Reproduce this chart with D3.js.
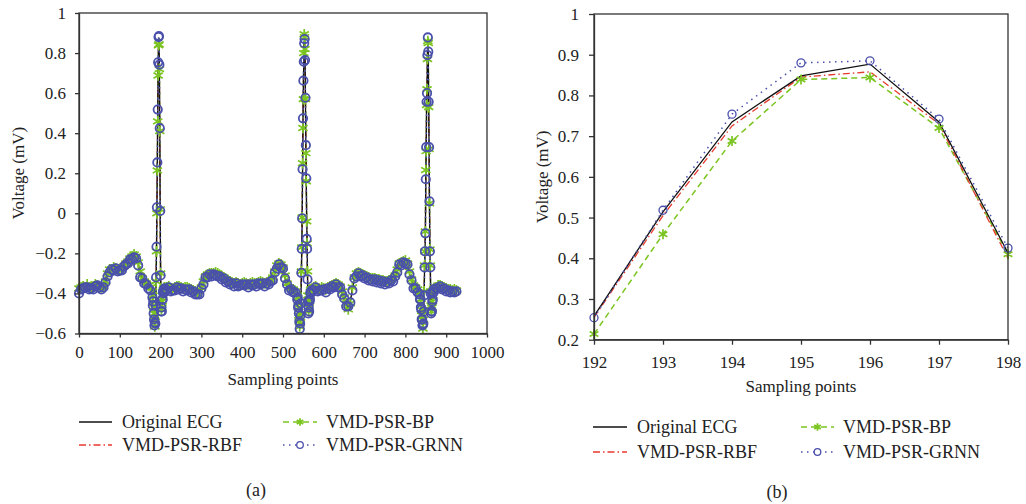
<!doctype html>
<html>
  <head>
    <meta charset="utf-8">
    <script src="https://cdnjs.cloudflare.com/ajax/libs/d3/7.8.5/d3.min.js"></script>
    <style>
      body { margin: 0; background: #fff; }
      svg text { font-family: "Liberation Serif", "Times New Roman", serif; fill: #222; }
    </style>
  </head>
  <body>
    <svg id="chart" width="1026" height="504"></svg>
    <script>
      // sample indices (dense around the three QRS complexes)
      var samples = [
        0,5,10,15,20,25,30,35,40,45,50,55,60,65,70,75,80,85,90,95,100,105,110,115,120,125,130,135,140,145,150,155,160,165,170,175,180,
        181,182,183,184,185,186,187,188,189,190,191,192,193,194,195,196,197,198,199,200,201,202,203,204,205,206,207,208,209,210,
        215,220,225,230,235,240,245,250,255,260,265,270,275,280,285,290,295,300,305,310,315,320,325,330,335,340,345,350,355,360,
        365,370,375,380,385,390,395,400,405,410,415,420,425,430,435,440,445,450,455,460,465,470,475,480,485,490,495,500,505,510,
        515,520,525,530,535,
        536,537,538,539,540,541,542,543,544,545,546,547,548,549,550,551,552,553,554,555,556,557,558,559,560,561,562,563,564,565,566,567,568,
        570,575,580,585,590,595,600,605,610,615,620,625,630,635,640,645,650,655,660,665,670,675,680,685,690,695,700,705,710,715,
        720,725,730,735,740,745,750,755,760,765,770,775,780,785,790,795,800,805,810,815,820,825,830,835,
        836,837,838,839,840,841,842,843,844,845,846,847,848,849,850,851,852,853,854,855,856,857,858,859,860,861,862,863,864,865,866,867,868,869,870,
        875,880,885,890,895,900,905,910,915,920,925
      ];

      var ecgOriginal = [
        -0.385,-0.375,-0.37,-0.375,-0.365,-0.375,-0.38,-0.375,-0.36,-0.365,-0.375,-0.38,-0.375,-0.35,-0.31,-0.29,-0.285,-0.28,-0.28,-0.285,-0.29,-0.28,-0.27,-0.26,-0.245,-0.235,-0.225,-0.215,-0.22,-0.25,-0.30,-0.33,-0.345,-0.36,-0.37,-0.38,-0.40,
        -0.42,-0.45,-0.48,-0.51,-0.54,-0.555,-0.55,-0.50,-0.33,-0.17,0.03,0.258,0.514,0.735,0.848,0.877,0.735,0.413,0.01,-0.31,-0.45,-0.49,-0.48,-0.45,-0.42,-0.40,-0.39,-0.385,-0.38,-0.38,
        -0.38,-0.375,-0.385,-0.39,-0.38,-0.375,-0.375,-0.38,-0.385,-0.38,-0.38,-0.385,-0.39,-0.395,-0.40,-0.41,-0.40,-0.38,-0.35,-0.325,
        -0.315,-0.31,-0.31,-0.31,-0.305,-0.31,-0.32,-0.325,-0.33,-0.34,-0.345,-0.35,-0.355,-0.36,-0.355,-0.36,-0.365,-0.36,-0.355,-0.36,
        -0.365,-0.36,-0.355,-0.36,-0.36,-0.355,-0.35,-0.355,-0.36,-0.355,-0.35,-0.345,-0.33,-0.30,-0.27,-0.26,-0.265,-0.28,-0.32,-0.36,
        -0.38,-0.385,-0.39,-0.40,-0.42,
        -0.43,-0.45,-0.48,-0.52,-0.55,-0.575,-0.56,-0.53,-0.46,-0.30,-0.18,-0.03,0.22,0.47,0.66,0.76,0.85,0.875,0.80,0.58,0.33,0.175,-0.025,-0.13,-0.30,-0.42,-0.48,-0.50,-0.48,-0.45,-0.42,-0.40,-0.39,
        -0.39,-0.38,-0.375,-0.385,-0.39,-0.38,-0.385,-0.39,-0.38,-0.375,-0.37,-0.365,-0.36,-0.365,-0.375,-0.40,-0.43,-0.46,-0.47,-0.44,
        -0.38,-0.33,-0.31,-0.305,-0.31,-0.315,-0.32,-0.325,-0.33,-0.335,-0.335,-0.335,-0.34,-0.34,-0.345,-0.345,-0.35,-0.35,-0.345,-0.34,
        -0.335,-0.32,-0.29,-0.26,-0.255,-0.25,-0.245,-0.26,-0.30,-0.34,-0.37,-0.38,-0.39,-0.41,
        -0.42,-0.44,-0.46,-0.49,-0.52,-0.54,-0.555,-0.56,-0.54,-0.50,-0.40,-0.27,-0.19,-0.10,0.17,0.33,0.56,0.60,0.79,0.875,0.81,0.55,0.33,0.06,-0.19,-0.27,-0.40,-0.47,-0.50,-0.48,-0.45,-0.42,-0.40,-0.39,-0.385,
        -0.38,-0.37,-0.37,-0.375,-0.38,-0.385,-0.39,-0.39,-0.395,-0.39,-0.395
      ];

      var ecgRBF = [
        -0.38,-0.375,-0.375,-0.37,-0.365,-0.375,-0.38,-0.37,-0.36,-0.365,-0.375,-0.375,-0.37,-0.35,-0.315,-0.29,-0.28,-0.28,-0.285,-0.285,-0.285,-0.28,-0.27,-0.255,-0.245,-0.235,-0.22,-0.215,-0.225,-0.255,-0.30,-0.33,-0.345,-0.355,-0.37,-0.38,-0.405,
        -0.42,-0.45,-0.48,-0.51,-0.54,-0.55,-0.55,-0.49,-0.33,-0.17,0.03,0.255,0.505,0.725,0.845,0.858,0.73,0.40,0.01,-0.31,-0.45,-0.49,-0.48,-0.45,-0.42,-0.40,-0.39,-0.385,-0.38,-0.38,
        -0.38,-0.375,-0.38,-0.39,-0.385,-0.375,-0.37,-0.38,-0.385,-0.38,-0.385,-0.385,-0.39,-0.395,-0.40,-0.405,-0.40,-0.38,-0.35,-0.32,
        -0.315,-0.31,-0.31,-0.305,-0.305,-0.31,-0.32,-0.325,-0.33,-0.34,-0.345,-0.35,-0.355,-0.36,-0.355,-0.36,-0.36,-0.36,-0.355,-0.36,
        -0.365,-0.36,-0.355,-0.355,-0.36,-0.355,-0.35,-0.355,-0.36,-0.355,-0.35,-0.345,-0.33,-0.30,-0.27,-0.26,-0.265,-0.28,-0.32,-0.36,
        -0.38,-0.385,-0.39,-0.40,-0.42,
        -0.43,-0.45,-0.48,-0.52,-0.55,-0.57,-0.56,-0.53,-0.46,-0.30,-0.18,-0.03,0.22,0.46,0.65,0.76,0.84,0.86,0.79,0.58,0.33,0.17,-0.03,-0.13,-0.30,-0.42,-0.48,-0.50,-0.48,-0.45,-0.42,-0.40,-0.39,
        -0.39,-0.38,-0.375,-0.38,-0.39,-0.38,-0.385,-0.39,-0.38,-0.375,-0.37,-0.365,-0.36,-0.365,-0.375,-0.40,-0.43,-0.46,-0.47,-0.44,
        -0.38,-0.33,-0.31,-0.305,-0.31,-0.315,-0.32,-0.325,-0.33,-0.335,-0.335,-0.335,-0.34,-0.34,-0.345,-0.345,-0.35,-0.35,-0.345,-0.34,
        -0.335,-0.32,-0.29,-0.26,-0.255,-0.25,-0.245,-0.26,-0.30,-0.34,-0.37,-0.38,-0.39,-0.41,
        -0.42,-0.44,-0.46,-0.49,-0.52,-0.54,-0.555,-0.56,-0.54,-0.50,-0.40,-0.27,-0.19,-0.10,0.17,0.33,0.55,0.60,0.78,0.86,0.80,0.55,0.33,0.06,-0.19,-0.27,-0.40,-0.47,-0.50,-0.48,-0.45,-0.42,-0.40,-0.39,-0.385,
        -0.38,-0.37,-0.37,-0.375,-0.38,-0.385,-0.39,-0.39,-0.395,-0.39,-0.395
      ];

      var ecgBP = [
        -0.375,-0.37,-0.365,-0.37,-0.355,-0.37,-0.375,-0.365,-0.355,-0.36,-0.37,-0.37,-0.365,-0.34,-0.30,-0.28,-0.28,-0.27,-0.275,-0.28,-0.285,-0.27,-0.265,-0.25,-0.24,-0.225,-0.215,-0.205,-0.215,-0.245,-0.29,-0.325,-0.34,-0.35,-0.36,-0.37,-0.39,
        -0.41,-0.44,-0.47,-0.50,-0.53,-0.565,-0.54,-0.48,-0.34,-0.19,0.0,0.214,0.459,0.688,0.839,0.844,0.72,0.41,0.02,-0.30,-0.44,-0.48,-0.47,-0.44,-0.41,-0.39,-0.38,-0.375,-0.37,-0.37,
        -0.37,-0.365,-0.375,-0.38,-0.37,-0.365,-0.365,-0.37,-0.375,-0.37,-0.37,-0.375,-0.38,-0.385,-0.39,-0.40,-0.39,-0.37,-0.34,-0.315,
        -0.305,-0.30,-0.30,-0.30,-0.295,-0.30,-0.31,-0.315,-0.32,-0.33,-0.335,-0.34,-0.345,-0.35,-0.345,-0.35,-0.355,-0.35,-0.345,-0.35,
        -0.355,-0.35,-0.345,-0.35,-0.35,-0.345,-0.34,-0.345,-0.35,-0.345,-0.34,-0.335,-0.32,-0.29,-0.26,-0.25,-0.255,-0.27,-0.31,-0.35,
        -0.37,-0.375,-0.38,-0.39,-0.41,
        -0.42,-0.44,-0.47,-0.51,-0.54,-0.565,-0.55,-0.52,-0.45,-0.29,-0.17,-0.02,0.25,0.426,0.57,0.80,0.894,0.88,0.82,0.57,0.30,0.16,-0.04,-0.15,-0.29,-0.41,-0.47,-0.49,-0.47,-0.44,-0.41,-0.39,-0.38,
        -0.38,-0.37,-0.365,-0.375,-0.38,-0.37,-0.375,-0.38,-0.37,-0.365,-0.36,-0.355,-0.35,-0.355,-0.365,-0.39,-0.42,-0.45,-0.48,-0.45,
        -0.37,-0.32,-0.30,-0.295,-0.30,-0.305,-0.31,-0.315,-0.32,-0.325,-0.325,-0.325,-0.33,-0.33,-0.335,-0.335,-0.34,-0.34,-0.335,-0.33,
        -0.325,-0.31,-0.28,-0.25,-0.245,-0.24,-0.235,-0.25,-0.29,-0.33,-0.36,-0.37,-0.38,-0.40,
        -0.41,-0.43,-0.45,-0.48,-0.51,-0.53,-0.545,-0.575,-0.53,-0.49,-0.39,-0.26,-0.19,-0.09,0.216,0.31,0.54,0.62,0.77,0.86,0.85,0.53,0.32,0.05,-0.18,-0.26,-0.39,-0.46,-0.49,-0.47,-0.44,-0.41,-0.39,-0.38,-0.375,
        -0.37,-0.36,-0.36,-0.365,-0.37,-0.375,-0.38,-0.38,-0.385,-0.38,-0.385
      ];

      var ecgGRNN = [
        -0.40,-0.38,-0.375,-0.37,-0.37,-0.38,-0.375,-0.38,-0.365,-0.36,-0.37,-0.38,-0.37,-0.345,-0.315,-0.295,-0.28,-0.285,-0.275,-0.29,-0.285,-0.285,-0.265,-0.255,-0.25,-0.23,-0.23,-0.22,-0.225,-0.26,-0.32,-0.325,-0.35,-0.355,-0.375,-0.385,-0.42,
        -0.46,-0.44,-0.50,-0.53,-0.56,-0.545,-0.55,-0.46,-0.32,-0.167,0.03,0.254,0.518,0.754,0.880,0.885,0.742,0.425,0.012,-0.31,-0.49,-0.47,-0.49,-0.43,-0.43,-0.39,-0.40,-0.38,-0.39,-0.375,
        -0.385,-0.37,-0.39,-0.385,-0.385,-0.37,-0.38,-0.375,-0.39,-0.38,-0.385,-0.38,-0.395,-0.39,-0.405,-0.405,-0.405,-0.375,-0.355,-0.32,
        -0.32,-0.305,-0.315,-0.305,-0.31,-0.315,-0.315,-0.33,-0.325,-0.345,-0.34,-0.355,-0.35,-0.365,-0.35,-0.365,-0.36,-0.355,-0.36,-0.355,
        -0.37,-0.355,-0.36,-0.355,-0.365,-0.35,-0.355,-0.35,-0.365,-0.35,-0.355,-0.34,-0.335,-0.295,-0.275,-0.255,-0.27,-0.275,-0.325,-0.355,
        -0.385,-0.38,-0.395,-0.395,-0.43,
        -0.42,-0.47,-0.46,-0.50,-0.54,-0.577,-0.55,-0.51,-0.45,-0.297,-0.178,-0.025,0.22,0.474,0.662,0.757,0.849,0.87,0.765,0.577,0.34,0.175,-0.128,-0.178,-0.33,-0.44,-0.50,-0.47,-0.49,-0.44,-0.43,-0.395,-0.40,
        -0.385,-0.385,-0.37,-0.39,-0.385,-0.385,-0.38,-0.395,-0.375,-0.38,-0.365,-0.37,-0.355,-0.37,-0.37,-0.405,-0.425,-0.465,-0.465,-0.445,
        -0.385,-0.325,-0.315,-0.30,-0.315,-0.31,-0.325,-0.32,-0.335,-0.33,-0.34,-0.33,-0.345,-0.335,-0.35,-0.34,-0.355,-0.345,-0.35,-0.335,
        -0.34,-0.315,-0.295,-0.255,-0.26,-0.245,-0.25,-0.255,-0.305,-0.335,-0.375,-0.375,-0.395,-0.405,
        -0.43,-0.43,-0.47,-0.48,-0.53,-0.53,-0.56,-0.555,-0.55,-0.49,-0.41,-0.27,-0.19,-0.10,0.17,0.33,0.557,0.60,0.79,0.878,0.807,0.557,0.33,0.06,-0.19,-0.27,-0.40,-0.50,-0.49,-0.49,-0.44,-0.43,-0.395,-0.395,-0.38,
        -0.375,-0.375,-0.365,-0.38,-0.375,-0.39,-0.385,-0.395,-0.39,-0.395,-0.39
      ];

      // tick labels
      var xTicksA = [0,100,200,300,400,500,600,700,800,900,1000];
      var yTicksA = [-0.6,-0.4,-0.2,0,0.2,0.4,0.6,0.8,1];
      var xTicksB = [192,193,194,195,196,197,198];
      var yTicksB = [0.2,0.3,0.4,0.5,0.6,0.7,0.8,0.9,1];

      var seriesNames = ["Original ECG","VMD-PSR-RBF","VMD-PSR-BP","VMD-PSR-GRNN"];
      var seriesValues = [ecgOriginal, ecgRBF, ecgBP, ecgGRNN];

      var styles = {
        "Original ECG": {color: "#111", dash: null, width: 1.3, marker: null},
        "VMD-PSR-RBF": {color: "#e63a2e", dash: "7,3,1.5,3", width: 1.3, marker: null},
        "VMD-PSR-BP": {color: "#7bc520", dash: "6,4", width: 1.5, marker: "star"},
        "VMD-PSR-GRNN": {color: "#4a50ab", dash: "1.5,4.5", width: 1.5, marker: "circle"}
      };

      var allSeries = seriesNames.map(function(name, i) {
        return {name: name, points: samples.map(function(s, j) { return {s: s, v: seriesValues[i][j]}; })};
      });

      var svg = d3.select("#chart");
      var fmt = d3.format("~g");
      var FONT = "'Liberation Serif', 'Times New Roman', serif";

      function drawPanel(cfg) {
        var x = d3.scaleLinear().domain(cfg.xDomain).range([cfg.left, cfg.right]);
        var y = d3.scaleLinear().domain(cfg.yDomain).range([cfg.bottom, cfg.top]);
        var g = svg.append("g");

        var data = allSeries.map(function(sr) {
          return {name: sr.name, points: sr.points.filter(function(p) {
            return p.s >= cfg.xDomain[0] && p.s <= cfg.xDomain[1];
          })};
        });
        var byName = {};
        data.forEach(function(d) { byName[d.name] = d; });

        var line = d3.line().x(function(d) { return x(d.s); }).y(function(d) { return y(d.v); });

        ["VMD-PSR-BP","VMD-PSR-RBF","Original ECG","VMD-PSR-GRNN"].forEach(function(name) {
          var st = styles[name];
          g.append("path").datum(byName[name].points)
            .attr("d", line).attr("fill", "none")
            .attr("stroke", st.color).attr("stroke-width", st.width)
            .attr("stroke-dasharray", st.dash);
        });

        var star = d3.symbol().type(d3.symbolAsterisk).size(cfg.starSize);
        g.append("g").selectAll("path").data(byName["VMD-PSR-BP"].points).enter().append("path")
          .attr("d", star).attr("transform", function(d) { return "translate(" + x(d.s) + "," + y(d.v) + ")"; })
          .attr("fill", "none").attr("stroke", styles["VMD-PSR-BP"].color).attr("stroke-width", 1.7);

        g.append("g").selectAll("circle").data(byName["VMD-PSR-GRNN"].points).enter().append("circle")
          .attr("cx", function(d) { return x(d.s); }).attr("cy", function(d) { return y(d.v); })
          .attr("r", cfg.circleR).attr("fill", "none")
          .attr("stroke", styles["VMD-PSR-GRNN"].color).attr("stroke-width", cfg.circleW);

        // axes
        var xAxis = d3.axisBottom(x).tickValues(cfg.xTicks).tickFormat(fmt)
          .tickSizeInner(cfg.tick).tickSizeOuter(0).tickPadding(cfg.xPad);
        var yAxis = d3.axisLeft(y).tickValues(cfg.yTicks).tickFormat(fmt)
          .tickSizeInner(cfg.tick).tickSizeOuter(0).tickPadding(cfg.yPad);
        var gx = svg.append("g").attr("transform", "translate(0," + cfg.bottom + ")").call(xAxis);
        var gy = svg.append("g").attr("transform", "translate(" + cfg.left + ",0)").call(yAxis);
        [gx, gy].forEach(function(a) {
          a.attr("font-family", FONT).attr("font-size", 17);
          a.selectAll("path, line").attr("stroke", "#333").attr("stroke-width", 1.3);
          a.selectAll("text").attr("fill", "#222");
        });

        svg.append("rect")
          .attr("x", cfg.left).attr("y", cfg.top)
          .attr("width", cfg.right - cfg.left).attr("height", cfg.bottom - cfg.top)
          .attr("fill", "none").attr("stroke", "#333").attr("stroke-width", 1.3);

        // axis titles
        svg.append("text").attr("x", (cfg.left + cfg.right) / 2).attr("y", cfg.xTitleY)
          .attr("text-anchor", "middle").attr("dominant-baseline", "central")
          .attr("font-size", 17).text("Sampling points");
        svg.append("text")
          .attr("transform", "translate(" + cfg.yTitleX + "," + ((cfg.top + cfg.bottom) / 2) + ") rotate(-90)")
          .attr("text-anchor", "middle").attr("dominant-baseline", "central")
          .attr("font-size", 17).text("Voltage (mV)");

        // legend
        var order = [["Original ECG", 0, 0], ["VMD-PSR-RBF", 0, 1], ["VMD-PSR-BP", 1, 0], ["VMD-PSR-GRNN", 1, 1]];
        order.forEach(function(o) {
          var st = styles[o[0]], col = cfg.legendCols[o[1]], ly = cfg.legendRows[o[2]];
          var lg = svg.append("g");
          lg.append("line").attr("x1", col[0]).attr("x2", col[1]).attr("y1", ly).attr("y2", ly)
            .attr("stroke", st.color).attr("stroke-width", st.width).attr("stroke-dasharray", st.dash);
          var cx = (col[0] + col[1]) / 2;
          if (st.marker === "star") {
            lg.append("path").attr("d", d3.symbol().type(d3.symbolAsterisk).size(40)())
              .attr("transform", "translate(" + cx + "," + ly + ")")
              .attr("fill", "none").attr("stroke", st.color).attr("stroke-width", 1.8);
          } else if (st.marker === "circle") {
            lg.append("circle").attr("cx", cx).attr("cy", ly).attr("r", 3.3)
              .attr("fill", "#fff").attr("stroke", st.color).attr("stroke-width", 1.3);
          }
          lg.append("text").attr("x", col[2]).attr("y", ly).attr("dominant-baseline", "central")
            .attr("font-size", 18).text(o[0]);
        });

        svg.append("text").attr("x", cfg.tagX).attr("y", cfg.tagY)
          .attr("text-anchor", "middle").attr("dominant-baseline", "central")
          .attr("font-size", 18).text(cfg.tag);
      }

      drawPanel({
        left: 79, right: 487, top: 13, bottom: 333.5,
        xDomain: [0, 1000], yDomain: [-0.6, 1],
        xTicks: xTicksA, yTicks: yTicksA, tick: 4, xPad: 8, yPad: 9,
        starSize: 80, circleR: 4.2, circleW: 1.8, xTitleY: 379, yTitleX: 18,
        legendRows: [422, 445], legendCols: [[79, 112, 122], [283, 317, 326]],
        tag: "(a)", tagX: 256, tagY: 490
      });

      drawPanel({
        left: 594, right: 1008, top: 14, bottom: 339.7,
        xDomain: [192, 198], yDomain: [0.2, 1],
        xTicks: xTicksB, yTicks: yTicksB, tick: 5, xPad: 11, yPad: 10,
        starSize: 70, circleR: 4, circleW: 1.3, xTitleY: 386, yTitleX: 542,
        legendRows: [427, 452], legendCols: [[593, 627, 637], [801, 834, 843]],
        tag: "(b)", tagX: 777, tagY: 492
      });
    </script>
  </body>
</html>
